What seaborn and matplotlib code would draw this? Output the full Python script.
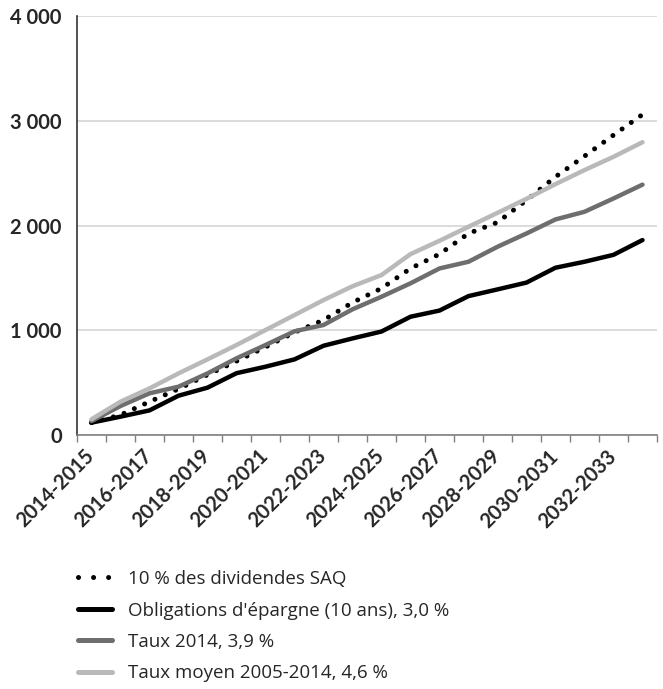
import numpy as np
import matplotlib
matplotlib.use("Agg")
import matplotlib.pyplot as plt
from matplotlib.lines import Line2D
from matplotlib.ticker import FuncFormatter, FixedLocator
import seaborn as sns

periods = [f"{y}-{y + 1}" for y in range(2014, 2034)]

dividendes = [118, 191, 318, 440, 575, 705, 840, 980, 1097, 1265, 1400, 1590, 1727, 1924, 2030,
              2242, 2465, 2662, 2863, 3060]
obligations = [118, 175, 235, 375, 452, 590, 652, 722, 852, 922, 988, 1129, 1188, 1326, 1390,
               1455, 1597, 1654, 1720, 1861]
taux_2014 = [133, 277, 398, 461, 588, 732, 859, 990, 1050, 1200, 1320, 1448, 1590, 1654, 1797,
             1924, 2058, 2131, 2258, 2390]
taux_moyen = [150, 318, 445, 588, 722, 859, 1002, 1145, 1288, 1420, 1527, 1727, 1854, 1988, 2121,
              2255, 2395, 2529, 2656, 2795]

labels = ["10 % des dividendes SAQ",
          "Obligations d'épargne (10 ans), 3,0 %",
          "Taux 2014, 3,9 %",
          "Taux moyen 2005-2014, 4,6 %"]
colors = ["#000000", "#000000", "#6e6e6e", "#b9b9b9"]

sns.set_style("white")
plt.rcParams["font.family"] = ["Lato", "DejaVu Sans"]

fig = plt.figure(figsize=(6.63, 6.89), dpi=100)
ax = fig.add_axes([77 / 663, 254 / 689, 580 / 663, 419 / 689])

x = np.arange(len(periods))
series = [dividendes, obligations, taux_2014, taux_moyen]
for i, (vals, col) in enumerate(zip(series, colors)):
    if i == 0:
        sns.lineplot(x=x, y=vals, ax=ax, color=col, lw=3.6, linestyle=(0, (0.01, 2.25)),
                     dash_capstyle="round", zorder=2)
    else:
        sns.lineplot(x=x, y=vals, ax=ax, color=col, lw=3.2, solid_capstyle="round", zorder=3)

ax.set_xlim(-0.5, len(periods) - 0.5)
ax.set_ylim(0, 4000)
ax.set_yticks([0, 1000, 2000, 3000, 4000])
ax.yaxis.set_major_formatter(FuncFormatter(lambda v, p: f"{int(v):,}".replace(",", " ")))
ax.grid(axis="y", color="#d6d6d6", lw=1.2)
ax.grid(axis="x", visible=False)
ax.set_axisbelow(True)

ax.set_xticks(x[::2])
ax.set_xticklabels(periods[::2], rotation=45, ha="right", va="center", rotation_mode="anchor")
ax.xaxis.set_minor_locator(FixedLocator(np.arange(-0.5, len(periods), 1)))
ax.tick_params(axis="x", which="major", length=0, pad=13, labelsize=14.5)
ax.tick_params(axis="x", which="minor", length=5, width=1, color="#808080", direction="out",
               bottom=True)
ax.tick_params(axis="y", length=0, pad=11, labelsize=14.5)
for lab in ax.get_xticklabels() + ax.get_yticklabels():
    lab.set_fontweight("bold")

for s in ["top", "right"]:
    ax.spines[s].set_visible(False)
ax.spines["left"].set_color("#333333")
ax.spines["bottom"].set_color("#808080")
ax.spines["left"].set_linewidth(1.2)
ax.spines["bottom"].set_linewidth(1.2)

handles = [
    Line2D([], [], color=colors[0], lw=3.6, linestyle=(0, (0.01, 3.0)), dash_capstyle="round"),
    Line2D([], [], color=colors[1], lw=3.6, solid_capstyle="round"),
    Line2D([], [], color=colors[2], lw=3.6, solid_capstyle="round"),
    Line2D([], [], color=colors[3], lw=3.6, solid_capstyle="round"),
]
fig.legend(handles, labels, loc="upper left", bbox_to_anchor=(78 / 663, 1 - 570 / 689),
           frameon=False, prop={"family": "Open Sans", "size": 13.5}, handlelength=1.8,
           handletextpad=0.85, labelspacing=0.72, borderpad=0, borderaxespad=0)

fig.savefig("out.png", dpi=100)
